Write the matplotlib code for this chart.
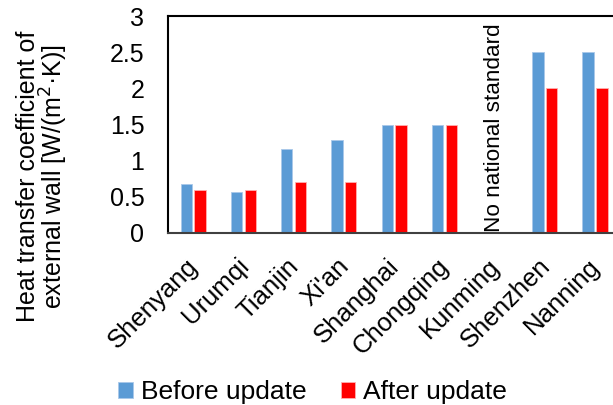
import numpy as np
import matplotlib

matplotlib.use('Agg')
import matplotlib.pyplot as plt
from matplotlib.transforms import ScaledTranslation

plt.rcParams['font.family'] = ['Liberation Sans', 'DejaVu Sans']

cities = ['Shenyang', 'Urumqi', 'Tianjin', "Xi'an", 'Shanghai',
          'Chongqing', 'Kunming', 'Shenzhen', 'Nanning']
before = [0.68, 0.56, 1.16, 1.29, 1.5, 1.5, np.nan, 2.5, 2.5]
after = [0.59, 0.59, 0.70, 0.70, 1.5, 1.5, np.nan, 2.0, 2.0]
y_ticks = [0, 0.5, 1, 1.5, 2, 2.5, 3]
y_tick_labels = ['0', '0.5', '1', '1.5', '2', '2.5', '3']

fig = plt.figure(figsize=(6.13, 4.05), dpi=100)
ax = fig.add_axes([168 / 613, 1 - 233 / 405, 452 / 613, 217 / 405])

x = np.arange(len(cities))
w = 0.225
ax.bar(x - 0.135, before, w, color='#5B9BD5', edgecolor='#A9C8EA',
       linewidth=0.6, label='Before update')
ax.bar(x + 0.14, after, w, color='#FF0000', edgecolor='#FFB0B0',
       linewidth=0.6, label='After update')

# Kunming has no data
ax.text(6, 0.02, 'No national standard', rotation=90, ha='center',
        va='bottom', fontsize=16.2)

ax.set_xlim(-0.5, len(cities) - 0.5)
ax.set_ylim(0, 3)
ax.set_yticks(y_ticks)
ax.set_yticklabels(y_tick_labels, fontsize=18)
ax.set_xticks(x)
ax.set_xticklabels(cities, rotation=45, ha='right', rotation_mode='anchor',
                   fontsize=18.5)
ax.tick_params(axis='both', length=0)
ax.tick_params(axis='y', pad=17)
ax.tick_params(axis='x', pad=15)
shift = ScaledTranslation(-7 / 100, 0, fig.dpi_scale_trans)
for lab in ax.get_xticklabels():
    lab.set_transform(lab.get_transform() + shift)

fig.text(43 / 613, 1 - 176 / 405,
         'Heat transfer coefficient of\nexternal wall [W/(m$^2$·K)]',
         rotation=90, ha='center', va='center', fontsize=18,
         linespacing=0.95, multialignment='center')

for s in ['top', 'left']:
    ax.spines[s].set_color('black')
    ax.spines[s].set_linewidth(1.5)
ax.spines['bottom'].set_color('#404040')
ax.spines['bottom'].set_linewidth(1.5)
ax.spines['right'].set_visible(False)

fig.legend(loc='lower center', bbox_to_anchor=(0.51, -0.057), ncol=2,
           frameon=False, fontsize=19, handlelength=0.55, handleheight=0.55,
           handletextpad=0.3, columnspacing=1.3)

plt.savefig('out.png', dpi=100)
